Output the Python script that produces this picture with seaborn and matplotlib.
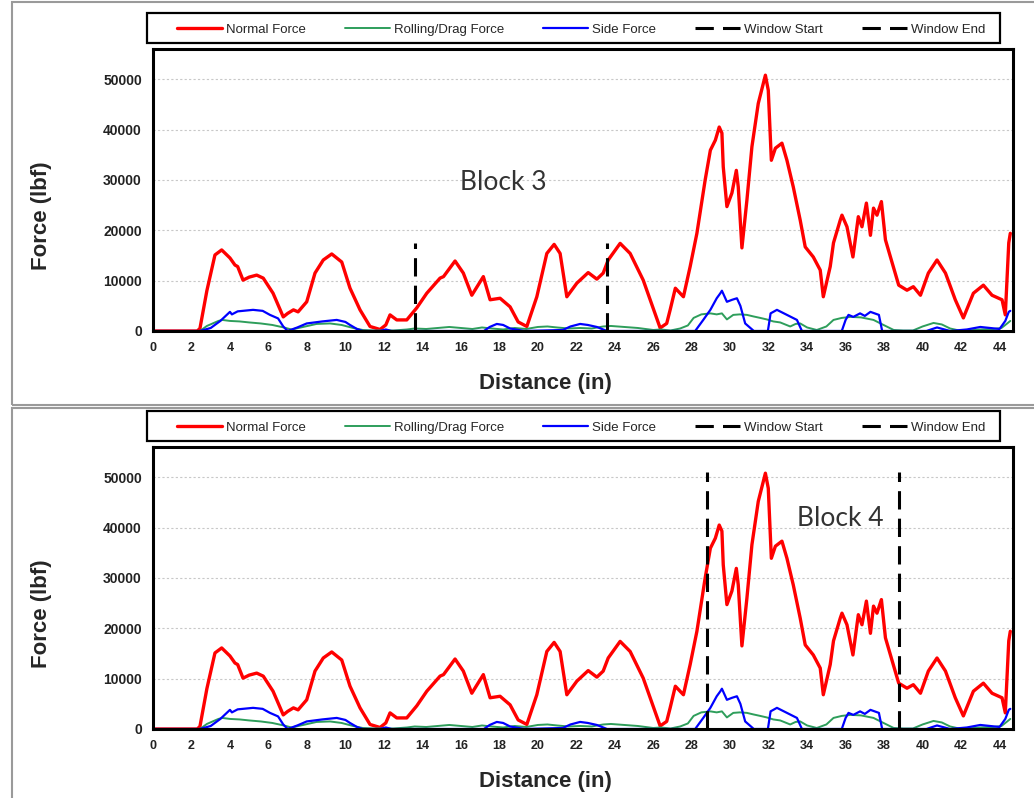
import numpy as np
import pandas as pd
import matplotlib
matplotlib.use("Agg")
import matplotlib.pyplot as plt
from matplotlib.patches import Rectangle
import seaborn as sns

# data (distance in inches, force in lbf)
normal_x = [0, 2.3, 2.44, 2.8, 3.22, 3.57, 4.0, 4.26, 4.4, 4.68,
            5.0, 5.39, 5.73, 6.24, 6.77, 7.0, 7.3, 7.54, 7.99, 8.42,
            8.85, 9.29, 9.81, 10.24, 10.76, 11.28, 11.8, 12.1, 12.32, 12.67,
            13.19, 13.71, 14.23, 14.92, 15.1, 15.7, 16.13, 16.57, 17.17, 17.52,
            18.04, 18.56, 18.98, 19.43, 19.95, 20.47, 20.85, 21.16, 21.51, 22.03,
            22.62, 23.07, 23.4, 23.66, 24.28, 24.8, 25.48, 26.36, 26.7, 26.88,
            27.15, 27.57, 27.92, 28.27, 28.7, 28.97, 29.23, 29.43, 29.57, 29.64,
            29.83, 30.09, 30.32, 30.42, 30.61, 30.87, 31.13, 31.46, 31.83, 31.98,
            32.14, 32.35, 32.69, 32.95, 33.28, 33.64, 33.9, 34.32, 34.68, 34.84,
            35.2, 35.37, 35.72, 35.81, 36.07, 36.38, 36.66, 36.85, 37.08, 37.29,
            37.45, 37.63, 37.86, 38.07, 38.33, 38.76, 39.19, 39.52, 39.89, 40.3,
            40.75, 41.19, 41.7, 42.12, 42.64, 43.16, 43.61, 44.13, 44.3, 44.48,
            44.56]
normal_y = [0, 0, 500, 8000, 15100, 16100, 14500, 13100, 12800, 10100,
            10700, 11100, 10500, 7500, 2800, 3500, 4200, 3800, 5800, 11500,
            14100, 15300, 13700, 8500, 4200, 900, 300, 1200, 3200, 2200,
            2200, 4600, 7500, 10500, 10800, 13900, 11500, 7100, 10800, 6200,
            6500, 4800, 1800, 900, 6800, 15400, 17200, 15400, 6800, 9500,
            11600, 10300, 11500, 14100, 17400, 15400, 10100, 600, 1500, 4200,
            8500, 6800, 12800, 19400, 30000, 35900, 37900, 40500, 39300, 32600,
            24700, 27400, 31900, 28600, 16500, 26000, 36600, 45200, 50800, 47800,
            33900, 36300, 37300, 33900, 28600, 22000, 16700, 14700, 12100, 6800,
            12800, 17500, 22000, 23000, 20700, 14700, 22700, 20700, 25400, 19000,
            24400, 23000, 25700, 18100, 14700, 9100, 8100, 8800, 7100, 11500,
            14100, 11500, 6200, 2600, 7500, 9100, 7100, 6200, 3200, 17500,
            19400]

rolling_x = [0, 2.44, 2.8, 3.4, 3.6, 4.0, 4.5, 5.0, 5.6, 6.2,
             6.8, 7.2, 7.8, 8.5, 9.2, 9.8, 10.4, 10.9, 11.5, 12.5,
             13.2, 13.6, 14.2, 14.8, 15.4, 16.0, 16.6, 17.1, 17.6, 18.2,
             18.8, 19.4, 20.0, 20.5, 21.0, 21.6, 22.2, 22.8, 23.4, 23.8,
             24.5, 25.2, 26.0, 26.4, 26.9, 27.4, 27.8, 28.1, 28.5, 28.97,
             29.3, 29.57, 29.83, 30.16, 30.5, 30.87, 31.2, 31.56, 31.9, 32.24,
             32.6, 33.12, 33.4, 33.64, 34.0, 34.5, 35.0, 35.37, 35.8, 36.25,
             36.8, 37.45, 37.97, 38.5, 39.0, 39.5, 40.0, 40.57, 41.0, 41.43,
             41.9, 42.3, 43.0, 43.7, 44.1, 44.4, 44.56]
rolling_y = [0, 0, 1000, 2000, 2200, 2000, 1900, 1700, 1500, 1200,
             700, 300, 800, 1400, 1500, 1200, 600, 200, 100, 100,
             300, 500, 400, 600, 800, 600, 400, 700, 500, 300,
             600, 400, 800, 900, 700, 500, 600, 500, 900, 1000,
             800, 600, 200, 300, 100, 500, 1100, 2600, 3300, 3500,
             3300, 3500, 2300, 3200, 3300, 3200, 2900, 2600, 2300, 1900,
             1700, 900, 1400, 1500, 700, 200, 900, 2200, 2600, 2800,
             2700, 2200, 1200, 200, 100, 100, 900, 1600, 1300, 500,
             100, 100, 300, 400, 600, 1500, 2000]

side_x = [0, 2.44, 3.0, 3.5, 4.0, 4.1, 4.4, 5.2, 5.7, 6.08,
          6.5, 6.77, 7.0, 7.5, 7.99, 8.8, 9.55, 10.0, 10.24, 10.6,
          10.9, 11.8, 12.1, 12.4, 12.8, 17.2, 17.5, 17.87, 18.2, 18.56,
          19.3, 21.3, 21.7, 22.2, 22.6, 23.07, 23.6, 27.9, 28.18, 28.6,
          28.97, 29.3, 29.49, 29.57, 29.83, 30.1, 30.35, 30.53, 30.78, 31.23,
          31.96, 32.1, 32.43, 32.95, 33.47, 33.73, 35.8, 36.0, 36.15, 36.4,
          36.75, 37.0, 37.29, 37.73, 37.9, 40.2, 40.75, 41.43, 42.3, 43.0,
          44.0, 44.3, 44.48, 44.56]
side_y = [0, 0, 600, 2000, 3800, 3300, 3900, 4200, 4000, 3200,
          2500, 900, 0, 700, 1500, 1900, 2200, 1800, 1200, 400,
          0, 0, 300, 0, 0, 0, 800, 1400, 1200, 500,
          0, 200, 900, 1400, 1200, 800, 0, 0, 0, 2200,
          4200, 6500, 7500, 8000, 5800, 6200, 6500, 5000, 1500, 0,
          0, 3500, 4200, 3200, 2200, 0, 0, 2200, 3200, 2800,
          3500, 3000, 3800, 3200, 0, 0, 700, 0, 300, 800,
          400, 2000, 3800, 4000]

# analysis windows for each block
block_names = ["Block 3", "Block 4"]
window_start = [13.6, 28.8]
window_end = [23.6, 38.8]
window_top = [17400, 51000]
label_pos = [(18.2, 29400), (35.7, 41900)]

sns.set_style("white")
plt.rcParams['font.family'] = ['Liberation Sans', 'DejaVu Sans']

fig = plt.figure(figsize=(10.34, 7.98), dpi=100)

# panel frames
fig.add_artist(Rectangle((12 / 1034, 1 - 405 / 798), 1.0, 405 / 798 - 0.002,
                         transform=fig.transFigure, fill=False,
                         edgecolor="#9a9a9a", lw=1.5))
fig.add_artist(Rectangle((12 / 1034, -0.01), 1.0, 1 - 408 / 798 + 0.01,
                         transform=fig.transFigure, fill=False,
                         edgecolor="#9a9a9a", lw=1.5))

axes_tops = [49, 447]
for i, top in enumerate(axes_tops):
    ax = fig.add_axes([153 / 1034, 1 - (top + 282) / 798, 860 / 1034, 282 / 798])
    sns.lineplot(x=normal_x, y=normal_y, ax=ax, color="#ff0000", lw=2.4,
                 sort=False, estimator=None, label="Normal Force")
    sns.lineplot(x=rolling_x, y=rolling_y, ax=ax, color="#2e9e5b", lw=1.4,
                 sort=False, estimator=None, label="Rolling/Drag Force")
    sns.lineplot(x=side_x, y=side_y, ax=ax, color="#0000ff", lw=1.6,
                 sort=False, estimator=None, label="Side Force")
    ax.plot([window_start[i]] * 2, [0, window_top[i]], color="black", lw=2.2,
            linestyle=(0, (6, 3)), label="Window Start")
    ax.plot([window_end[i]] * 2, [0, window_top[i]], color="black", lw=2.2,
            linestyle=(0, (6, 3)), label="Window End")
    ax.text(label_pos[i][0], label_pos[i][1], block_names[i], ha="center",
            va="center", fontsize=19, color="#333333", family=["Lato", "DejaVu Sans"])

    ax.set_xlim(0, 44.7)
    ax.set_ylim(0, 56000)
    ax.set_xticks(np.arange(0, 45, 2))
    ax.set_yticks(np.arange(0, 50001, 10000))
    ax.yaxis.grid(True, color="#c8c8c8", linestyle=(0, (2, 2)), lw=0.8)
    ax.xaxis.grid(False)
    for s in ax.spines.values():
        s.set_color("black")
        s.set_linewidth(2.2)
    ax.tick_params(axis="x", direction="out", length=4, width=1,
                   color="black", labelsize=9, pad=4)
    ax.tick_params(axis="y", direction="out", length=4, width=1,
                   color="black", labelsize=10, pad=4)
    for lab in ax.get_xticklabels() + ax.get_yticklabels():
        lab.set_fontweight("bold")
        lab.set_color("#222222")
    ax.set_xlabel("Distance (in)", fontsize=16, fontweight="bold")
    ax.set_ylabel("Force (lbf)", fontsize=16, fontweight="bold")
    ax.xaxis.set_label_coords(0.456, -0.149)
    ax.yaxis.set_label_coords(-0.117, 0.41)

    # legend box above the axes
    ax.add_patch(Rectangle((-6 / 860, (331 - 43) / 282), 853 / 860, 30 / 282,
                           transform=ax.transAxes, fill=False, clip_on=False,
                           edgecolor="black", lw=1.6))
    ax.legend(loc="center", bbox_to_anchor=(24 / 860, 1.024, 808 / 860, 0.09),
              mode="expand", ncol=5, frameon=False, borderaxespad=0,
              borderpad=0, handlelength=3.4, handletextpad=0.3,
              prop={"size": 9.5})

fig.savefig("out.png", dpi=100)
